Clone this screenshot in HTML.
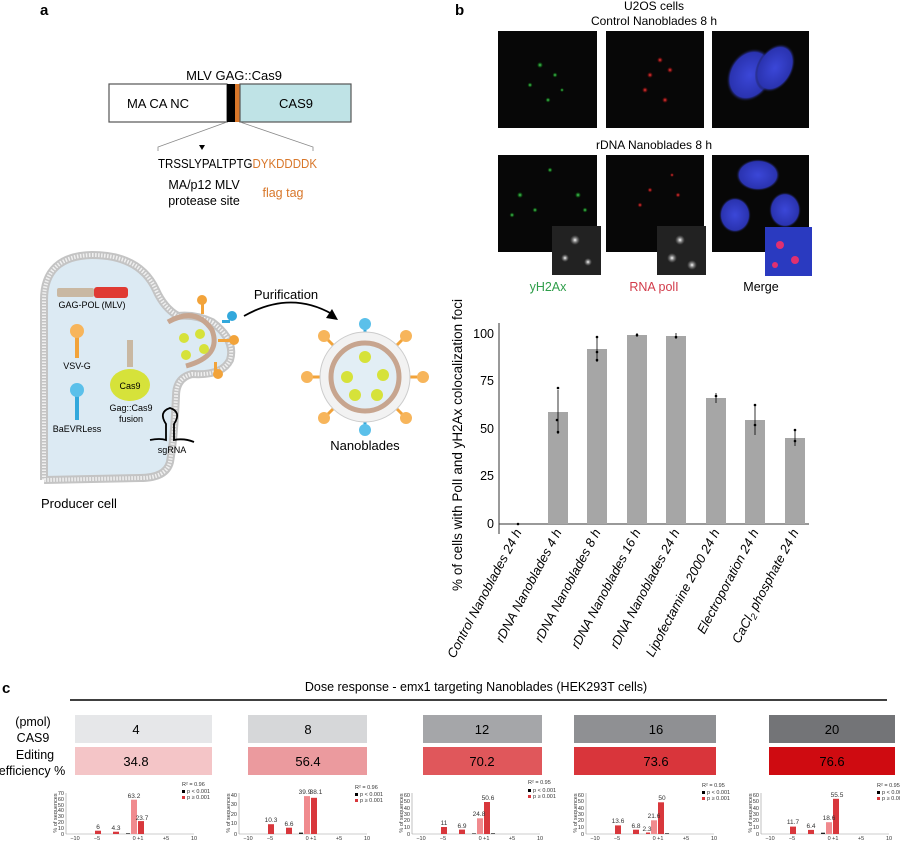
<!DOCTYPE html>
<html><head><meta charset="utf-8"><style>
html,body{margin:0;padding:0;background:#fff;}
svg{display:block;font-family:"Liberation Sans",sans-serif;}
</style></head><body>
<svg width="900" height="842" viewBox="0 0 900 842" xmlns="http://www.w3.org/2000/svg">
<defs>
<radialGradient id="gd"><stop offset="0" stop-color="#4fd36a"/><stop offset="1" stop-color="#0a0" stop-opacity="0"/></radialGradient>
<radialGradient id="rd"><stop offset="0" stop-color="#ff4040"/><stop offset="1" stop-color="#a00" stop-opacity="0"/></radialGradient>
<radialGradient id="bd"><stop offset="0" stop-color="#3b47d8"/><stop offset="0.85" stop-color="#2a33b0"/><stop offset="1" stop-color="#111" stop-opacity="0"/></radialGradient>
<radialGradient id="wd"><stop offset="0" stop-color="#fff"/><stop offset="1" stop-color="#888" stop-opacity="0"/></radialGradient>
</defs>

<!-- Panel a -->
<text x="40" y="15" font-size="15" font-weight="bold">a</text>
<text x="234" y="80" font-size="13" text-anchor="middle">MLV GAG::Cas9</text>
<rect x="109" y="84" width="118" height="38" fill="#fff" stroke="#555" stroke-width="1.2"/>
<rect x="227" y="84" width="8" height="38" fill="#000"/>
<rect x="235" y="84" width="5" height="38" fill="#d8772a"/>
<rect x="240" y="84" width="111" height="38" fill="#bfe3e6" stroke="#555" stroke-width="1.2"/>
<text x="158" y="108" font-size="13" text-anchor="middle">MA CA NC</text>
<text x="296" y="108" font-size="13" text-anchor="middle">CAS9</text>
<path d="M227 122 L158 147 L158 151 M240 122 L313 147 L313 151" fill="none" stroke="#888" stroke-width="0.8"/>
<path d="M199 145 L205 145 L202 150Z" fill="#000"/>
<text x="158" y="168" font-size="12.5" textLength="159" lengthAdjust="spacingAndGlyphs"><tspan fill="#000">TRSSLYPALTPTG</tspan><tspan fill="#d8772a">DYKDDDDK</tspan></text>
<text x="204" y="189" font-size="12.5" text-anchor="middle">MA/p12 MLV</text>
<text x="204" y="205" font-size="12.5" text-anchor="middle">protease site</text>
<text x="283" y="197" font-size="12.5" text-anchor="middle" fill="#d8772a">flag tag</text>

<!-- producer cell -->
<path id="cellp" d="M44 480 L44 300 Q44 256 92 255 Q140 255 156 290 Q164 308 178 316 Q195 314 212 322 Q236 340 230 360 Q222 376 192 374 Q176 378 176 396 Q174 440 170 462 Q166 478 140 478 L44 480" fill="#dceaf3" stroke="#c4c4c4" stroke-width="8"/>
<path d="M44 480 L44 300 Q44 256 92 255 Q140 255 156 290 Q164 308 178 316 Q195 314 212 322 Q236 340 230 360 Q222 376 192 374 Q176 378 176 396 Q174 440 170 462 Q166 478 140 478 L44 480" fill="none" stroke="#f0f0f0" stroke-width="4" stroke-dasharray="1.5 1.5"/>
<rect x="0" y="248" width="40" height="250" fill="#fff"/>
<!-- budding particle -->
<path d="M168 322 Q196 306 212 330 Q222 356 186 366" fill="none" stroke="#c7a58f" stroke-width="5"/>
<circle cx="184" cy="338" r="5" fill="#d6e23a"/><circle cx="200" cy="334" r="5" fill="#d6e23a"/><circle cx="204" cy="349" r="5" fill="#d6e23a"/><circle cx="186" cy="355" r="5" fill="#d6e23a"/>
<g fill="#f2a33a"><rect x="201" y="300" width="3" height="14"/><circle cx="202" cy="300" r="5"/><rect x="218" y="339" width="12" height="3"/><circle cx="234" cy="340" r="5"/><rect x="214" y="362" width="3" height="10"/><circle cx="218" cy="374" r="5"/></g>
<g fill="#32a8dc"><rect x="222" y="320" width="8" height="3"/><circle cx="232" cy="316" r="5"/></g>
<!-- GAG-POL -->
<rect x="57" y="288" width="37" height="9" rx="2" fill="#c9b8a2"/><rect x="94" y="287" width="34" height="11" rx="3" fill="#e03a32"/>
<text x="92" y="308" font-size="9" text-anchor="middle">GAG-POL (MLV)</text>
<!-- VSV-G -->
<rect x="75" y="336" width="4" height="22" fill="#f2a33a"/><circle cx="77" cy="331" r="7" fill="#f7b55b"/>
<text x="77" y="369" font-size="9" text-anchor="middle">VSV-G</text>
<rect x="75" y="394" width="4" height="26" fill="#32a8dc"/><circle cx="77" cy="390" r="7" fill="#5bc0ea"/>
<text x="77" y="432" font-size="9" text-anchor="middle">BaEVRLess</text>
<rect x="127" y="340" width="6" height="27" fill="#c9b8a2"/>
<ellipse cx="130" cy="385" rx="20" ry="16" fill="#d6e23a"/>
<text x="130" y="389" font-size="9" text-anchor="middle">Cas9</text>
<text x="131" y="411" font-size="9" text-anchor="middle">Gag::Cas9</text>
<text x="131" y="422" font-size="9" text-anchor="middle">fusion</text>
<path d="M150 440 Q160 438 166 440 L166 424 Q158 412 170 408 Q182 412 174 424 L174 440 Q184 438 194 442" fill="none" stroke="#000" stroke-width="1.8"/>
<text x="172" y="453" font-size="9" text-anchor="middle">sgRNA</text>
<text x="41" y="508" font-size="13">Producer cell</text>
<!-- arrow -->
<text x="286" y="299" font-size="13" text-anchor="middle">Purification</text>
<path d="M244 316 Q290 290 332 314" fill="none" stroke="#000" stroke-width="1.8"/>
<path d="M338 320 L326 318 L332 309 Z" fill="#000"/>
<!-- nanoblade -->
<g transform="translate(365,377)">
<g stroke="#f2a33a" stroke-width="3">
<line x1="0" y1="0" x2="-55" y2="0"/><line x1="0" y1="0" x2="55" y2="0"/><line x1="0" y1="0" x2="-38" y2="-38"/><line x1="0" y1="0" x2="38" y2="-38"/><line x1="0" y1="0" x2="-38" y2="38"/><line x1="0" y1="0" x2="38" y2="38"/></g>
<g stroke="#32a8dc" stroke-width="3"><line x1="0" y1="0" x2="0" y2="-50"/><line x1="0" y1="0" x2="0" y2="50"/></g>
<circle r="45" fill="#f2f2f2" stroke="#ccc"/>
<circle r="34" fill="#e2eef5" stroke="#c7a58f" stroke-width="5"/>
<circle cx="-18" cy="0" r="6" fill="#d6e23a"/><circle cx="18" cy="-2" r="6" fill="#d6e23a"/><circle cx="0" cy="-20" r="6" fill="#d6e23a"/><circle cx="-10" cy="18" r="6" fill="#d6e23a"/><circle cx="12" cy="18" r="6" fill="#d6e23a"/>
<g fill="#f7b55b"><circle cx="-58" cy="0" r="6"/><circle cx="58" cy="0" r="6"/><circle cx="-41" cy="-41" r="6"/><circle cx="41" cy="-41" r="6"/><circle cx="-41" cy="41" r="6"/><circle cx="41" cy="41" r="6"/></g>
<g fill="#5bc0ea"><circle cx="0" cy="-53" r="6"/><circle cx="0" cy="53" r="6"/></g>
</g>
<text x="365" y="450" font-size="13" text-anchor="middle">Nanoblades</text>

<!-- Panel b -->
<text x="455" y="15" font-size="15" font-weight="bold">b</text>
<text x="654" y="10" font-size="12" text-anchor="middle">U2OS cells</text>
<text x="654" y="25" font-size="12" text-anchor="middle">Control Nanoblades 8 h</text>
<text x="654" y="149" font-size="12" text-anchor="middle">rDNA Nanoblades 8 h</text>
<g fill="#070707">
<rect x="498" y="31" width="99" height="97"/><rect x="606" y="31" width="98" height="97"/><rect x="712" y="31" width="97" height="97"/>
<rect x="498" y="155" width="99" height="97"/><rect x="606" y="155" width="98" height="97"/><rect x="712" y="155" width="97" height="97"/>
</g>
<g fill="url(#gd)"><circle cx="540" cy="65" r="3"/><circle cx="555" cy="75" r="2.5"/><circle cx="530" cy="85" r="2.5"/><circle cx="562" cy="90" r="2"/><circle cx="548" cy="100" r="2.5"/><circle cx="520" cy="195" r="3"/><circle cx="535" cy="210" r="2.5"/><circle cx="578" cy="195" r="3"/><circle cx="585" cy="210" r="2.5"/><circle cx="550" cy="170" r="2.5"/><circle cx="512" cy="215" r="2.5"/></g>
<g fill="url(#rd)"><circle cx="660" cy="60" r="3"/><circle cx="670" cy="70" r="3"/><circle cx="650" cy="75" r="3"/><circle cx="645" cy="90" r="3"/><circle cx="665" cy="100" r="3"/><circle cx="640" cy="205" r="2.5"/><circle cx="650" cy="190" r="2.5"/><circle cx="678" cy="195" r="2.5"/><circle cx="672" cy="175" r="2"/></g>
<g fill="url(#bd)"><ellipse cx="750" cy="75" rx="22" ry="28" transform="rotate(30 750 75)"/><ellipse cx="775" cy="68" rx="18" ry="26" transform="rotate(30 775 68)"/><ellipse cx="758" cy="175" rx="22" ry="16"/><ellipse cx="735" cy="215" rx="16" ry="18"/><ellipse cx="785" cy="210" rx="16" ry="18"/></g>
<rect x="552" y="226" width="49" height="49" fill="#222"/>
<rect x="657" y="226" width="49" height="49" fill="#222"/>
<rect x="765" y="227" width="47" height="49" fill="#2a3ac0"/>
<g fill="url(#wd)"><circle cx="575" cy="240" r="5"/><circle cx="565" cy="258" r="4"/><circle cx="588" cy="262" r="4"/><circle cx="680" cy="240" r="5"/><circle cx="672" cy="258" r="5"/><circle cx="692" cy="265" r="5"/></g>
<g fill="#e03070"><circle cx="780" cy="245" r="4"/><circle cx="795" cy="260" r="4"/><circle cx="775" cy="265" r="3"/></g>
<text x="548" y="291" font-size="12.5" text-anchor="middle" fill="#2f9e4a">yH2Ax</text>
<text x="654" y="291" font-size="12.5" text-anchor="middle" fill="#d23b4a">RNA polI</text>
<text x="761" y="291" font-size="12.5" text-anchor="middle">Merge</text>

<!-- bar chart -->
<text transform="translate(462,445) rotate(-90)" font-size="13.5" text-anchor="middle">% of cells with PolI and yH2Ax colocalization foci</text>
<line x1="499" y1="323" x2="499" y2="534" stroke="#333"/>
<line x1="499" y1="524" x2="809" y2="524" stroke="#333"/>
<g font-size="12.5" text-anchor="end">
<text x="494" y="338">100</text><text x="494" y="385">75</text><text x="494" y="433">50</text><text x="494" y="480">25</text><text x="494" y="528">0</text></g>
<g fill="#a6a6a6">
<rect x="548" y="412" width="20" height="112"/>
<rect x="587" y="349" width="20" height="175"/>
<rect x="627" y="335" width="20" height="189"/>
<rect x="666" y="336" width="20" height="188"/>
<rect x="706" y="398" width="20" height="126"/>
<rect x="745" y="420" width="20" height="104"/>
<rect x="785" y="438" width="20" height="86"/></g>
<g stroke="#000" stroke-width="0.8">
<line x1="558" y1="390" x2="558" y2="434"/><line x1="597" y1="336" x2="597" y2="362"/><line x1="637" y1="333" x2="637" y2="337"/><line x1="676" y1="333" x2="676" y2="339"/><line x1="716" y1="393" x2="716" y2="403"/><line x1="755" y1="405" x2="755" y2="435"/><line x1="795" y1="430" x2="795" y2="446"/></g>
<g fill="#000"><circle cx="558" cy="388" r="1.3"/><circle cx="557" cy="420" r="1.3"/><circle cx="558" cy="432" r="1.3"/><circle cx="597" cy="337" r="1.3"/><circle cx="597" cy="352" r="1.3"/><circle cx="597" cy="360" r="1.3"/><circle cx="637" cy="335" r="1.3"/><circle cx="676" cy="337" r="1.3"/><circle cx="716" cy="396" r="1.3"/><circle cx="755" cy="405" r="1.3"/><circle cx="755" cy="425" r="1.3"/><circle cx="795" cy="430" r="1.3"/><circle cx="795" cy="441" r="1.3"/><circle cx="518" cy="524" r="1.3"/></g>
<g font-size="13" font-style="italic" text-anchor="end">
<text transform="translate(522,532) rotate(-62)">Control Nanoblades 24 h</text>
<text transform="translate(562,532) rotate(-62)">rDNA Nanoblades 4 h</text>
<text transform="translate(601,532) rotate(-62)">rDNA Nanoblades 8 h</text>
<text transform="translate(641,532) rotate(-62)">rDNA Nanoblades 16 h</text>
<text transform="translate(680,532) rotate(-62)">rDNA Nanoblades 24 h</text>
<text transform="translate(720,532) rotate(-62)">Lipofectamine 2000 24 h</text>
<text transform="translate(759,532) rotate(-62)">Electroporation 24 h</text>
<text transform="translate(799,532) rotate(-62)">CaCl<tspan font-size="9" dy="3">2</tspan><tspan dy="-3"> phosphate 24 h</tspan></text>
</g>

<!-- Panel c -->
<text x="2" y="693" font-size="15" font-weight="bold">c</text>
<text x="476" y="691" font-size="12.5" text-anchor="middle">Dose response - emx1 targeting Nanoblades (HEK293T cells)</text>
<line x1="70" y1="700" x2="887" y2="700" stroke="#000" stroke-width="1.5"/>
<g font-size="12.5" text-anchor="middle"><text x="33" y="726">(pmol)</text><text x="33" y="742">CAS9</text><text x="35" y="759">Editing</text><text x="32" y="775">efficiency %</text></g>
<g>
<rect x="75" y="715" width="137" height="28" fill="#e6e7e9"/><rect x="248" y="715" width="119" height="28" fill="#d6d7d9"/><rect x="423" y="715" width="119" height="28" fill="#a5a6a9"/><rect x="574" y="715" width="142" height="28" fill="#8f9093"/><rect x="769" y="715" width="126" height="28" fill="#737477"/>
<rect x="75" y="747" width="137" height="28" fill="#f4c5c7"/><rect x="248" y="747" width="119" height="28" fill="#eb9a9e"/><rect x="423" y="747" width="119" height="28" fill="#e0575b"/><rect x="574" y="747" width="142" height="28" fill="#d9353b"/><rect x="769" y="747" width="126" height="28" fill="#cf0b11"/>
</g>
<g font-size="13" text-anchor="middle">
<text x="136" y="734">4</text><text x="308" y="734">8</text><text x="482" y="734">12</text><text x="656" y="734">16</text><text x="832" y="734">20</text>
<text x="136" y="766">34.8</text><text x="308" y="766">56.4</text><text x="482" y="766">70.2</text><text x="656" y="766">73.6</text><text x="832" y="766">76.6</text></g>

<!-- histograms -->
<g font-size="5.5" fill="#333">
<!-- chart 1 -->
<g transform="translate(66,0)">
<line x1="0" y1="793" x2="0" y2="834" stroke="#999" stroke-width="0.6"/><line x1="0" y1="834" x2="128" y2="834" stroke="#999" stroke-width="0.6"/>
<text transform="translate(-9,813) rotate(-90)" text-anchor="middle">% of sequences</text>
<g text-anchor="end"><text x="-2" y="795">70</text><text x="-2" y="801">60</text><text x="-2" y="807">50</text><text x="-2" y="812">40</text><text x="-2" y="818">30</text><text x="-2" y="824">20</text><text x="-2" y="830">10</text><text x="-2" y="836">0</text></g>
<rect x="29" y="830.7" width="6" height="3.3" fill="#d8373c"/><rect x="47" y="831.7" width="6" height="2.3" fill="#d8373c"/><rect x="60" y="833.3" width="4" height="0.7" fill="#222"/><rect x="65" y="799.7" width="6" height="34.3" fill="#f08a8e"/><rect x="72" y="821.1" width="6" height="12.9" fill="#d8373c"/>
<g text-anchor="middle" font-size="6.5"><text x="32" y="829">6</text><text x="50" y="830">4.3</text><text x="68" y="798">63.2</text><text x="76" y="820">23.7</text></g>
<g text-anchor="middle"><text x="9" y="840">−10</text><text x="31" y="840">−5</text><text x="72" y="840">0 +1</text><text x="100" y="840">+5</text><text x="128" y="840">10</text></g>
<text x="116" y="786">R² = 0.96</text><rect x="116" y="790" width="3" height="3" fill="#000"/><text x="121" y="793">p &lt; 0.001</text><rect x="116" y="796" width="3" height="3" fill="#d8373c"/><text x="121" y="799">p ≥ 0.001</text>
</g>
<!-- chart 2 -->
<g transform="translate(239,0)">
<line x1="0" y1="793" x2="0" y2="834" stroke="#999" stroke-width="0.6"/><line x1="0" y1="834" x2="128" y2="834" stroke="#999" stroke-width="0.6"/>
<text transform="translate(-9,813) rotate(-90)" text-anchor="middle">% of sequences</text>
<g text-anchor="end"><text x="-2" y="797">40</text><text x="-2" y="806">30</text><text x="-2" y="816">20</text><text x="-2" y="825">10</text><text x="-2" y="836">0</text></g>
<rect x="29" y="824.2" width="6" height="9.8" fill="#d8373c"/><rect x="47" y="827.7" width="6" height="6.3" fill="#d8373c"/><rect x="60" y="832.6" width="4" height="1.4" fill="#222"/><rect x="65" y="796.1" width="6" height="37.9" fill="#f08a8e"/><rect x="72" y="797.8" width="6" height="36.2" fill="#d8373c"/>
<g text-anchor="middle" font-size="6.5"><text x="32" y="822">10.3</text><text x="50" y="826">6.6</text><text x="66" y="794">39.9</text><text x="77" y="794">38.1</text></g>
<g text-anchor="middle"><text x="9" y="840">−10</text><text x="31" y="840">−5</text><text x="72" y="840">0 +1</text><text x="100" y="840">+5</text><text x="128" y="840">10</text></g>
<text x="116" y="789">R² = 0.96</text><rect x="116" y="793" width="3" height="3" fill="#000"/><text x="121" y="796">p &lt; 0.001</text><rect x="116" y="799" width="3" height="3" fill="#d8373c"/><text x="121" y="802">p ≥ 0.001</text>
</g>
<!-- chart 3 -->
<g transform="translate(412,0)">
<line x1="0" y1="793" x2="0" y2="834" stroke="#999" stroke-width="0.6"/><line x1="0" y1="834" x2="128" y2="834" stroke="#999" stroke-width="0.6"/>
<text transform="translate(-9,813) rotate(-90)" text-anchor="middle">% of sequences</text>
<g text-anchor="end"><text x="-2" y="797">60</text><text x="-2" y="803">50</text><text x="-2" y="810">40</text><text x="-2" y="816">30</text><text x="-2" y="822">20</text><text x="-2" y="829">10</text><text x="-2" y="836">0</text></g>
<rect x="29" y="827" width="6" height="7" fill="#d8373c"/><rect x="47" y="829.6" width="6" height="4.4" fill="#d8373c"/><rect x="60" y="833.4" width="4" height="0.6" fill="#222"/><rect x="65" y="818.3" width="6" height="15.7" fill="#f08a8e"/><rect x="72" y="802" width="6" height="32" fill="#d8373c"/><rect x="79" y="833.3" width="4" height="0.7" fill="#222"/>
<g text-anchor="middle" font-size="6.5"><text x="32" y="825">11</text><text x="50" y="828">6.9</text><text x="67" y="816">24.8</text><text x="76" y="800">50.6</text></g>
<g text-anchor="middle"><text x="9" y="840">−10</text><text x="31" y="840">−5</text><text x="72" y="840">0 +1</text><text x="100" y="840">+5</text><text x="128" y="840">10</text></g>
<text x="116" y="784">R² = 0.95</text><rect x="116" y="789" width="3" height="3" fill="#000"/><text x="121" y="792">p &lt; 0.001</text><rect x="116" y="795" width="3" height="3" fill="#d8373c"/><text x="121" y="798">p ≥ 0.001</text>
</g>
<!-- chart 4 -->
<g transform="translate(586,0)">
<line x1="0" y1="793" x2="0" y2="834" stroke="#999" stroke-width="0.6"/><line x1="0" y1="834" x2="128" y2="834" stroke="#999" stroke-width="0.6"/>
<text transform="translate(-9,813) rotate(-90)" text-anchor="middle">% of sequences</text>
<g text-anchor="end"><text x="-2" y="797">60</text><text x="-2" y="803">50</text><text x="-2" y="810">40</text><text x="-2" y="816">30</text><text x="-2" y="822">20</text><text x="-2" y="829">10</text><text x="-2" y="836">0</text></g>
<rect x="29" y="825.4" width="6" height="8.6" fill="#d8373c"/><rect x="47" y="829.7" width="6" height="4.3" fill="#d8373c"/><rect x="60" y="832.5" width="4" height="1.5" fill="#d8373c"/><rect x="65" y="820.3" width="6" height="13.7" fill="#f08a8e"/><rect x="72" y="802.3" width="6" height="31.7" fill="#d8373c"/><rect x="79" y="833.3" width="4" height="0.7" fill="#222"/>
<g text-anchor="middle" font-size="6.5"><text x="32" y="823">13.6</text><text x="50" y="828">6.8</text><text x="61" y="831">2.3</text><text x="68" y="818">21.6</text><text x="76" y="800">50</text></g>
<g text-anchor="middle"><text x="9" y="840">−10</text><text x="31" y="840">−5</text><text x="72" y="840">0 +1</text><text x="100" y="840">+5</text><text x="128" y="840">10</text></g>
<text x="116" y="787">R² = 0.95</text><rect x="116" y="791" width="3" height="3" fill="#000"/><text x="121" y="794">p &lt; 0.001</text><rect x="116" y="797" width="3" height="3" fill="#d8373c"/><text x="121" y="800">p ≥ 0.001</text>
</g>
<!-- chart 5 -->
<g transform="translate(761,0)">
<line x1="0" y1="793" x2="0" y2="834" stroke="#999" stroke-width="0.6"/><line x1="0" y1="834" x2="128" y2="834" stroke="#999" stroke-width="0.6"/>
<text transform="translate(-9,813) rotate(-90)" text-anchor="middle">% of sequences</text>
<g text-anchor="end"><text x="-2" y="797">60</text><text x="-2" y="803">50</text><text x="-2" y="810">40</text><text x="-2" y="816">30</text><text x="-2" y="822">20</text><text x="-2" y="829">10</text><text x="-2" y="836">0</text></g>
<rect x="29" y="826.6" width="6" height="7.4" fill="#d8373c"/><rect x="47" y="829.9" width="6" height="4.1" fill="#d8373c"/><rect x="60" y="832.7" width="4" height="1.3" fill="#222"/><rect x="65" y="822.2" width="6" height="11.8" fill="#f08a8e"/><rect x="72" y="798.8" width="6" height="35.2" fill="#d8373c"/>
<g text-anchor="middle" font-size="6.5"><text x="32" y="824">11.7</text><text x="50" y="828">6.4</text><text x="68" y="820">18.6</text><text x="76" y="797">55.5</text></g>
<g text-anchor="middle"><text x="9" y="840">−10</text><text x="31" y="840">−5</text><text x="72" y="840">0 +1</text><text x="100" y="840">+5</text><text x="128" y="840">10</text></g>
<text x="116" y="787">R² = 0.95</text><rect x="116" y="791" width="3" height="3" fill="#000"/><text x="121" y="794">p &lt; 0.001</text><rect x="116" y="797" width="3" height="3" fill="#d8373c"/><text x="121" y="800">p ≥ 0.001</text>
</g>
</g>
</svg>
</body></html>
